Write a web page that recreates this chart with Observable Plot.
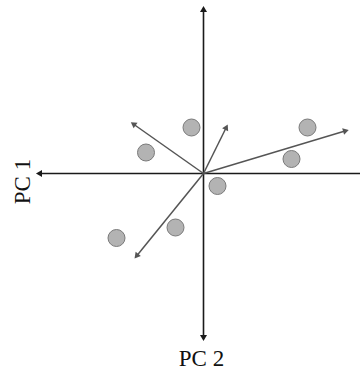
<!DOCTYPE html>
<html>
<head>
<meta charset="utf-8">
<script src="https://cdn.jsdelivr.net/npm/d3@7"></script>
<script src="https://cdn.jsdelivr.net/npm/@observablehq/plot@0.6"></script>
<style>
  html, body { margin: 0; padding: 0; background: #fff; }
  svg { display: block; }
</style>
</head>
<body>
<div id="chart"></div>
<script>
// Scores (sample points) in PC units
const scoreX = [-0.12, -0.575, 1.04, 0.88, 0.14, -0.28, -0.87];
const scoreY = [0.46, 0.21, 0.46, 0.145, -0.125, -0.54, -0.645];
// Loading vectors (tips)
const loadX = [-0.695, 0.225, 1.415, -0.665];
const loadY = [0.49, 0.455, 0.425, -0.82];
// Axis labels
const axisLabels = ["PC 1", "PC 2"];

const points = scoreX.map((x, i) => ({x, y: scoreY[i]}));
const loads = loadX.map((x, i) => ({x, y: loadY[i], a: Math.atan2(x, loadY[i]) * 180 / Math.PI}));

const axisLines = [
  {x1: 0, y1: -1.64, x2: 0, y2: 1.64},
  {x1: 1.6, y1: 0, x2: -1.64, y2: 0}
];
const axisHeads = [
  {x: 0, y: 1.635, a: 0},
  {x: 0, y: -1.635, a: 180},
  {x: -1.635, y: 0, a: -90}
];

const chart = Plot.plot({
  width: 360,
  height: 370,
  margin: 0,
  x: {domain: [-1.65, 1.65], range: [38, 368], axis: null},
  y: {domain: [-1.65, 1.65], range: [338, 8], axis: null},
  style: {background: "#fff", fontFamily: "'Liberation Serif', 'DejaVu Serif', serif"},
  marks: [
    Plot.link(axisLines, {x1: "x1", y1: "y1", x2: "x2", y2: "y2", stroke: "#1a1a1a", strokeWidth: 1.6}),
    Plot.dot(axisHeads, {x: "x", y: "y", symbol: "triangle", r: 2.6, rotate: "a", fill: "#1a1a1a", stroke: "none"}),
    Plot.link(loads, {x1: 0, y1: 0, x2: "x", y2: "y", stroke: "#555", strokeWidth: 1.5}),
    Plot.dot(loads, {x: "x", y: "y", symbol: "triangle", r: 2.5, rotate: "a", fill: "#555", stroke: "none"}),
    Plot.dot(points, {x: "x", y: "y", r: 8.5, fill: "#b3b3b3", stroke: "#7a7a7a", strokeWidth: 1}),
    Plot.text([axisLabels[0]], {x: () => -1.81, y: () => -0.08, text: d => d, rotate: -90, fontSize: 23, fill: "#111", textAnchor: "middle"}),
    Plot.text([axisLabels[1]], {x: () => -0.02, y: () => -1.85, text: d => d, fontSize: 23, fill: "#111", textAnchor: "middle"})
  ]
});
document.getElementById("chart").appendChild(chart);
</script>
</body>
</html>
